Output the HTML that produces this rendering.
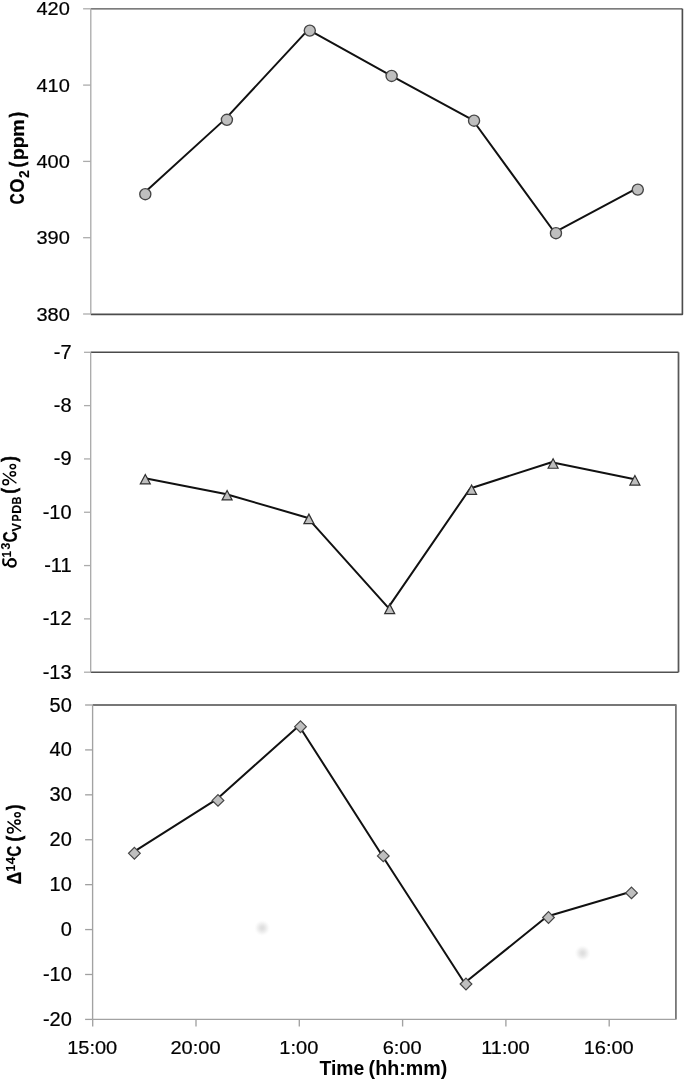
<!DOCTYPE html>
<html><head><meta charset="utf-8"><style>
html,body{margin:0;padding:0;background:#fff;}
body{width:685px;height:1080px;overflow:hidden;}
svg{display:block;font-family:"Liberation Sans", sans-serif;filter:grayscale(1);}
</style></head><body>
<svg width="685" height="1080" viewBox="0 0 685 1080">
<defs><radialGradient id="blob"><stop offset="0" stop-color="#dddddd"/><stop offset="0.25" stop-color="#e2e2e2"/><stop offset="0.55" stop-color="#efefef"/><stop offset="0.8" stop-color="#fafafa"/><stop offset="1" stop-color="#fff"/></radialGradient></defs>
<rect width="685" height="1080" fill="#fff"/>
<g fill="#000">
<path d="M90.8 8.86 H682.4" fill="none" stroke="#505050" stroke-width="1.36"/>
<path d="M682.4 8.86 V314.3 H90.8" fill="none" stroke="#4c4c4c" stroke-width="1.65" stroke-linejoin="round"/>
<line x1="90.8" y1="8.8" x2="90.8" y2="314" stroke="#a8a8a8" stroke-width="1.3"/>
<line x1="83.1" y1="8.8" x2="90.8" y2="8.8" stroke="#acacac" stroke-width="1.3"/>
<text transform="translate(69.8 15.35) scale(1 0.96)" text-anchor="end" font-size="20" stroke="#000" stroke-width="0.22">420</text>
<line x1="83.1" y1="85.1" x2="90.8" y2="85.1" stroke="#acacac" stroke-width="1.3"/>
<text transform="translate(69.8 91.65) scale(1 0.96)" text-anchor="end" font-size="20" stroke="#000" stroke-width="0.22">410</text>
<line x1="83.1" y1="161.4" x2="90.8" y2="161.4" stroke="#acacac" stroke-width="1.3"/>
<text transform="translate(69.8 167.95) scale(1 0.96)" text-anchor="end" font-size="20" stroke="#000" stroke-width="0.22">400</text>
<line x1="83.1" y1="237.7" x2="90.8" y2="237.7" stroke="#acacac" stroke-width="1.3"/>
<text transform="translate(69.8 244.25) scale(1 0.96)" text-anchor="end" font-size="20" stroke="#000" stroke-width="0.22">390</text>
<line x1="83.1" y1="314" x2="90.8" y2="314" stroke="#acacac" stroke-width="1.3"/>
<text transform="translate(69.8 320.55) scale(1 0.96)" text-anchor="end" font-size="20" stroke="#000" stroke-width="0.22">380</text>
<polyline fill="none" stroke="#111" stroke-width="2" stroke-linejoin="round" points="143.8,193.27 225.4,118.87 308.3,29.67 390.1,75.02 472.55,119.77 554.45,232.27 636.3,188.67"/>
<circle cx="145.3" cy="194.2" r="5.55" fill="#bfbfbf" stroke="#454545" stroke-width="1.35"/>
<circle cx="226.9" cy="119.8" r="5.55" fill="#bfbfbf" stroke="#454545" stroke-width="1.35"/>
<circle cx="309.8" cy="30.6" r="5.55" fill="#bfbfbf" stroke="#454545" stroke-width="1.35"/>
<circle cx="391.6" cy="75.95" r="5.55" fill="#bfbfbf" stroke="#454545" stroke-width="1.35"/>
<circle cx="474.05" cy="120.7" r="5.55" fill="#bfbfbf" stroke="#454545" stroke-width="1.35"/>
<circle cx="555.95" cy="233.2" r="5.55" fill="#bfbfbf" stroke="#454545" stroke-width="1.35"/>
<circle cx="637.8" cy="189.6" r="5.55" fill="#bfbfbf" stroke="#454545" stroke-width="1.35"/>
<path d="M90.7 352.3 H678.5" fill="none" stroke="#4a4a4a" stroke-width="1.6"/>
<path d="M678.5 352.3 V672.3" fill="none" stroke="#585858" stroke-width="1.75"/>
<path d="M678.5 672.3 H90.7" fill="none" stroke="#525252" stroke-width="1.55"/>
<line x1="90.7" y1="352.3" x2="90.7" y2="672.2" stroke="#a8a8a8" stroke-width="1.3"/>
<line x1="84" y1="352.3" x2="90.7" y2="352.3" stroke="#acacac" stroke-width="1.3"/>
<text transform="translate(71.6 358.85) scale(1 0.97)" text-anchor="end" font-size="20" stroke="#000" stroke-width="0.22">-7</text>
<line x1="84" y1="405.617" x2="90.7" y2="405.617" stroke="#acacac" stroke-width="1.3"/>
<text transform="translate(71.6 412.167) scale(1 0.97)" text-anchor="end" font-size="20" stroke="#000" stroke-width="0.22">-8</text>
<line x1="84" y1="458.933" x2="90.7" y2="458.933" stroke="#acacac" stroke-width="1.3"/>
<text transform="translate(71.6 465.483) scale(1 0.97)" text-anchor="end" font-size="20" stroke="#000" stroke-width="0.22">-9</text>
<line x1="84" y1="512.25" x2="90.7" y2="512.25" stroke="#acacac" stroke-width="1.3"/>
<text transform="translate(71.6 518.8) scale(1 0.97)" text-anchor="end" font-size="20" stroke="#000" stroke-width="0.22">-10</text>
<line x1="84" y1="565.567" x2="90.7" y2="565.567" stroke="#acacac" stroke-width="1.3"/>
<text transform="translate(71.6 572.117) scale(1 0.97)" text-anchor="end" font-size="20" stroke="#000" stroke-width="0.22">-11</text>
<line x1="84" y1="618.883" x2="90.7" y2="618.883" stroke="#acacac" stroke-width="1.3"/>
<text transform="translate(71.6 625.433) scale(1 0.97)" text-anchor="end" font-size="20" stroke="#000" stroke-width="0.22">-12</text>
<line x1="84" y1="672.2" x2="90.7" y2="672.2" stroke="#acacac" stroke-width="1.3"/>
<text transform="translate(71.6 678.75) scale(1 0.97)" text-anchor="end" font-size="20" stroke="#000" stroke-width="0.22">-13</text>
<polyline fill="none" stroke="#111" stroke-width="2" stroke-linejoin="round" points="143.8,477.97 225.6,493.97 307.4,517.67 388.2,607.67 470.1,488.47 551.6,462.27 633.4,479.07"/>
<path d="M145.3 474.45 L150.3 483.95 L140.3 483.95 Z" fill="#bfbfbf" stroke="#303030" stroke-width="1.2" stroke-linejoin="miter"/>
<path d="M227.1 490.45 L232.1 499.95 L222.1 499.95 Z" fill="#bfbfbf" stroke="#303030" stroke-width="1.2" stroke-linejoin="miter"/>
<path d="M308.9 514.15 L313.9 523.65 L303.9 523.65 Z" fill="#bfbfbf" stroke="#303030" stroke-width="1.2" stroke-linejoin="miter"/>
<path d="M389.7 604.15 L394.7 613.65 L384.7 613.65 Z" fill="#bfbfbf" stroke="#303030" stroke-width="1.2" stroke-linejoin="miter"/>
<path d="M471.6 484.95 L476.6 494.45 L466.6 494.45 Z" fill="#bfbfbf" stroke="#303030" stroke-width="1.2" stroke-linejoin="miter"/>
<path d="M553.1 458.75 L558.1 468.25 L548.1 468.25 Z" fill="#bfbfbf" stroke="#303030" stroke-width="1.2" stroke-linejoin="miter"/>
<path d="M634.9 475.55 L639.9 485.05 L629.9 485.05 Z" fill="#bfbfbf" stroke="#303030" stroke-width="1.2" stroke-linejoin="miter"/>
<path d="M92.6 705 H675.9 V1019.4" fill="none" stroke="#777" stroke-width="1.8" stroke-linejoin="round"/>
<line x1="92.6" y1="705" x2="92.6" y2="1019.4" stroke="#a2a2a2" stroke-width="1.35"/>
<line x1="92.6" y1="1019.4" x2="675.9" y2="1019.4" stroke="#a2a2a2" stroke-width="1.35"/>
<line x1="85.1" y1="705" x2="92.6" y2="705" stroke="#a0a0a0" stroke-width="1.3"/>
<text transform="translate(71.8 711.55) scale(1 0.97)" text-anchor="end" font-size="20" stroke="#000" stroke-width="0.22">50</text>
<line x1="85.1" y1="749.914" x2="92.6" y2="749.914" stroke="#a0a0a0" stroke-width="1.3"/>
<text transform="translate(71.8 756.464) scale(1 0.97)" text-anchor="end" font-size="20" stroke="#000" stroke-width="0.22">40</text>
<line x1="85.1" y1="794.829" x2="92.6" y2="794.829" stroke="#a0a0a0" stroke-width="1.3"/>
<text transform="translate(71.8 801.379) scale(1 0.97)" text-anchor="end" font-size="20" stroke="#000" stroke-width="0.22">30</text>
<line x1="85.1" y1="839.743" x2="92.6" y2="839.743" stroke="#a0a0a0" stroke-width="1.3"/>
<text transform="translate(71.8 846.293) scale(1 0.97)" text-anchor="end" font-size="20" stroke="#000" stroke-width="0.22">20</text>
<line x1="85.1" y1="884.657" x2="92.6" y2="884.657" stroke="#a0a0a0" stroke-width="1.3"/>
<text transform="translate(71.8 891.207) scale(1 0.97)" text-anchor="end" font-size="20" stroke="#000" stroke-width="0.22">10</text>
<line x1="85.1" y1="929.571" x2="92.6" y2="929.571" stroke="#a0a0a0" stroke-width="1.3"/>
<text transform="translate(71.8 936.121) scale(1 0.97)" text-anchor="end" font-size="20" stroke="#000" stroke-width="0.22">0</text>
<line x1="85.1" y1="974.486" x2="92.6" y2="974.486" stroke="#a0a0a0" stroke-width="1.3"/>
<text transform="translate(71.8 981.036) scale(1 0.97)" text-anchor="end" font-size="20" stroke="#000" stroke-width="0.22">-10</text>
<line x1="85.1" y1="1019.4" x2="92.6" y2="1019.4" stroke="#a0a0a0" stroke-width="1.3"/>
<text transform="translate(71.8 1025.95) scale(1 0.97)" text-anchor="end" font-size="20" stroke="#000" stroke-width="0.22">-20</text>
<line x1="92.7" y1="1019.4" x2="92.7" y2="1026.5" stroke="#a2a2a2" stroke-width="1.35"/>
<text transform="translate(92.2 1054.1) scale(1 0.96)" text-anchor="middle" font-size="20" stroke="#000" stroke-width="0.22">15:00</text>
<line x1="196" y1="1019.4" x2="196" y2="1026.5" stroke="#a2a2a2" stroke-width="1.35"/>
<text transform="translate(195.5 1054.1) scale(1 0.96)" text-anchor="middle" font-size="20" stroke="#000" stroke-width="0.22">20:00</text>
<line x1="299.3" y1="1019.4" x2="299.3" y2="1026.5" stroke="#a2a2a2" stroke-width="1.35"/>
<text transform="translate(298.8 1054.1) scale(1 0.96)" text-anchor="middle" font-size="20" stroke="#000" stroke-width="0.22">1:00</text>
<line x1="402.6" y1="1019.4" x2="402.6" y2="1026.5" stroke="#a2a2a2" stroke-width="1.35"/>
<text transform="translate(402.1 1054.1) scale(1 0.96)" text-anchor="middle" font-size="20" stroke="#000" stroke-width="0.22">6:00</text>
<line x1="505.9" y1="1019.4" x2="505.9" y2="1026.5" stroke="#a2a2a2" stroke-width="1.35"/>
<text transform="translate(505.4 1054.1) scale(1 0.96)" text-anchor="middle" font-size="20" stroke="#000" stroke-width="0.22">11:00</text>
<line x1="609.2" y1="1019.4" x2="609.2" y2="1026.5" stroke="#a2a2a2" stroke-width="1.35"/>
<text transform="translate(608.7 1054.1) scale(1 0.96)" text-anchor="middle" font-size="20" stroke="#000" stroke-width="0.22">16:00</text>
<circle cx="262.2" cy="928.0" r="8" fill="url(#blob)"/>
<circle cx="582.6" cy="953.1" r="8" fill="url(#blob)"/>
<polyline fill="none" stroke="#111" stroke-width="2" stroke-linejoin="round" points="132.9,852.37 216.5,799.47 299,725.77 381.8,854.97 464.5,983.07 547,916.57 630,891.97"/>
<path d="M134.4 847.45 L140.25 853.3 L134.4 859.15 L128.55 853.3 Z" fill="#bfbfbf" stroke="#444" stroke-width="1.2"/>
<path d="M218 794.55 L223.85 800.4 L218 806.25 L212.15 800.4 Z" fill="#bfbfbf" stroke="#444" stroke-width="1.2"/>
<path d="M300.5 720.85 L306.35 726.7 L300.5 732.55 L294.65 726.7 Z" fill="#bfbfbf" stroke="#444" stroke-width="1.2"/>
<path d="M383.3 850.05 L389.15 855.9 L383.3 861.75 L377.45 855.9 Z" fill="#bfbfbf" stroke="#444" stroke-width="1.2"/>
<path d="M466 978.15 L471.85 984 L466 989.85 L460.15 984 Z" fill="#bfbfbf" stroke="#444" stroke-width="1.2"/>
<path d="M548.5 911.65 L554.35 917.5 L548.5 923.35 L542.65 917.5 Z" fill="#bfbfbf" stroke="#444" stroke-width="1.2"/>
<path d="M631.5 887.05 L637.35 892.9 L631.5 898.75 L625.65 892.9 Z" fill="#bfbfbf" stroke="#444" stroke-width="1.2"/>
<text transform="translate(319.382 1075) scale(1.006 1)" font-size="19.3" font-weight="bold">Time</text>
<text transform="translate(368.619 1075) scale(1.02 1)" font-size="19.3" font-weight="bold">(hh:mm)</text>
<text transform="translate(23.808 204.387) rotate(-90) scale(0.796 1.007)" font-size="19.5" font-weight="bold" stroke="#000" stroke-width="0.2">C</text>
<text transform="translate(23.808 192.65) rotate(-90) scale(0.937 1.007)" font-size="19.5" font-weight="bold" stroke="#000" stroke-width="0.2">O</text>
<text transform="translate(28.8 178.082) rotate(-90) scale(0.714 0.712)" font-size="19.5" font-weight="bold" stroke="#000" stroke-width="0.2">2</text>
<text transform="translate(23.626 167.212) rotate(-90) scale(0.836 1.056)" font-size="19.5" font-weight="bold" stroke="#000" stroke-width="0.6">(</text>
<text transform="translate(23.722 160.208) rotate(-90) scale(1.018 0.934)" font-size="19.5" font-weight="bold" stroke="#000" stroke-width="0.2">p</text>
<text transform="translate(23.722 148.169) rotate(-90) scale(0.987 0.934)" font-size="19.5" font-weight="bold" stroke="#000" stroke-width="0.2">p</text>
<text transform="translate(23.9 136.925) rotate(-90) scale(1.031 0.952)" font-size="19.5" font-weight="bold" stroke="#000" stroke-width="0.2">m</text>
<text transform="translate(23.592 117.215) rotate(-90) scale(0.8 1.04)" font-size="19.5" font-weight="bold" stroke="#000" stroke-width="0.6">)</text>
<text transform="translate(10.5 557.544) rotate(-90) scale(0.606 0.701)" font-size="19.5" font-weight="bold" stroke="#000" stroke-width="0.2">1</text>
<text transform="translate(10.354 549.382) rotate(-90) scale(0.629 0.665)" font-size="19.5" font-weight="bold" stroke="#000" stroke-width="0.2">3</text>
<text transform="translate(16.71 542.534) rotate(-90) scale(0.792 1)" font-size="19.5" font-weight="bold" stroke="#000" stroke-width="0.2">C</text>
<text transform="translate(21.3 531.387) rotate(-90) scale(0.652 0.693)" font-size="19.5" font-weight="bold" stroke="#000" stroke-width="0.2">V</text>
<text transform="translate(21.3 521.609) rotate(-90) scale(0.544 0.693)" font-size="19.5" font-weight="bold" stroke="#000" stroke-width="0.2">P</text>
<text transform="translate(21.3 513.64) rotate(-90) scale(0.644 0.693)" font-size="19.5" font-weight="bold" stroke="#000" stroke-width="0.2">D</text>
<text transform="translate(21.3 504.49) rotate(-90) scale(0.568 0.693)" font-size="19.5" font-weight="bold" stroke="#000" stroke-width="0.2">B</text>
<text transform="translate(16.215 493.412) rotate(-90) scale(0.836 1.034)" font-size="19.5" font-weight="bold" stroke="#000" stroke-width="0.6">(</text>
<text transform="translate(16.348 461.817) rotate(-90) scale(0.872 1.051)" font-size="19.5" font-weight="bold" stroke="#000" stroke-width="0.6">)</text>
<path fill-rule="evenodd" d="M16.8 562.96 A4.75 4.9 0 1 1 7.3 562.96 A4.75 4.9 0 1 1 16.8 562.96 Z M14.95 562.96 A3.07 2.41 0 1 0 8.81 562.96 A3.07 2.41 0 1 0 14.95 562.96 Z"/>
<path d="M3.4 559.4 C3.0 562.0, 3.2 564.4, 4.6 565.0 C5.8 565.5, 6.9 564.6, 7.9 563.0" fill="none" stroke="#000" stroke-width="2.1" stroke-linecap="round"/>
<text transform="translate(21.3 884.472) rotate(-90) scale(0.913 1.036)" font-size="19.5" font-weight="bold" stroke="#000" stroke-width="0.2">Δ</text>
<text transform="translate(15 871.558) rotate(-90) scale(0.617 0.686)" font-size="19.5" font-weight="bold" stroke="#000" stroke-width="0.2">1</text>
<text transform="translate(14.8 864.509) rotate(-90) scale(0.708 0.656)" font-size="19.5" font-weight="bold" stroke="#000" stroke-width="0.2">4</text>
<text transform="translate(21.111 856.627) rotate(-90) scale(0.784 0.992)" font-size="19.5" font-weight="bold" stroke="#000" stroke-width="0.2">C</text>
<text transform="translate(20.903 841.547) rotate(-90) scale(0.872 1.062)" font-size="19.5" font-weight="bold" stroke="#000" stroke-width="0.6">(</text>
<text transform="translate(20.903 809.916) rotate(-90) scale(0.836 1.062)" font-size="19.5" font-weight="bold" stroke="#000" stroke-width="0.6">)</text>
<g fill="none" stroke="#000" stroke-width="1.5"><ellipse cx="10.35" cy="830.4" rx="2.8" ry="2.55"/><ellipse cx="17.5" cy="822" rx="2.68" ry="2.12"/><ellipse cx="17.5" cy="814.77" rx="2.68" ry="2.08"/><line x1="7.5" y1="821.4" x2="21.1" y2="831.5" stroke-width="1.35"/></g>
<g fill="none" stroke="#000" stroke-width="1.5"><ellipse cx="5.7" cy="482.2" rx="2.8" ry="2.55"/><ellipse cx="12.85" cy="473.8" rx="2.68" ry="2.12"/><ellipse cx="12.85" cy="466.57" rx="2.68" ry="2.08"/><line x1="2.85" y1="473.2" x2="16.45" y2="483.3" stroke-width="1.35"/></g>
</g>
</svg>
</body></html>
